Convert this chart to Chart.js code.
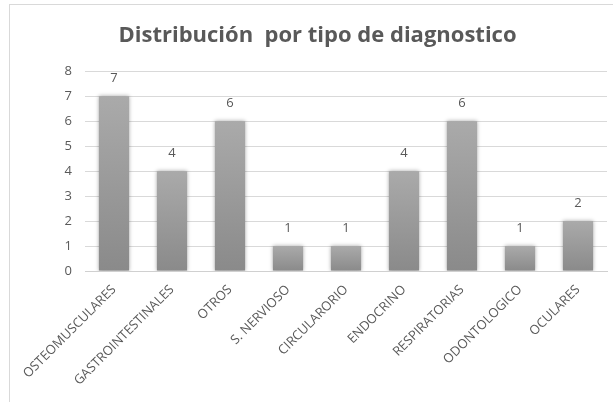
<!DOCTYPE html>
<html>
<head>
<meta charset="utf-8">
<script src="https://cdn.jsdelivr.net/npm/chart.js@4/dist/chart.umd.min.js"></script>
<style>
  html, body { margin: 0; padding: 0; background: #fff; overflow: hidden; }
  #frame { position: absolute; left: 9px; top: 4px; width: 620px; height: 420px; border: 1px solid #d9d9d9; }
  #wrap { position: absolute; left: 0; top: 0; width: 613px; height: 402px; }
</style>
</head>
<body>
<div id="frame"></div>
<div id="wrap"><canvas id="chart1"></canvas></div>
<script>
// chart data
const categories = ['OSTEOMUSCULARES', 'GASTROINTESTINALES', 'OTROS', 'S. NERVIOSO', 'CIRCULARORIO', 'ENDOCRINO', 'RESPIRATORIAS', 'ODONTOLOGICO', 'OCULARES'];
const counts = [7, 4, 6, 1, 1, 4, 6, 1, 2];
const yTicks = [0, 1, 2, 3, 4, 5, 6, 7, 8];

const textGray = '#595959';
const fontName = '"Open Sans", Lato, sans-serif';

// per-bar vertical gradient, lighter at the top
function barFill(context) {
  const chart = context.chart;
  const y = chart.scales && chart.scales.y;
  if (!y || !chart.chartArea) return '#999999';
  const v = context.raw || 0;
  const top = y.getPixelForValue(v);
  const bottom = y.getPixelForValue(0);
  const g = chart.ctx.createLinearGradient(0, top, 0, bottom);
  g.addColorStop(0, '#aaaaaa');
  g.addColorStop(1, '#8a8a8a');
  return g;
}

// soft shadow around the bars
const barShadow = {
  id: 'barShadow',
  beforeDatasetsDraw(chart) {
    const ctx = chart.ctx;
    ctx.save();
    ctx.shadowColor = 'rgba(0,0,0,0.35)';
    ctx.shadowBlur = 4;
  },
  afterDatasetsDraw(chart) {
    chart.ctx.restore();
  }
};

// value labels above each bar
const valueLabels = {
  id: 'valueLabels',
  afterDatasetsDraw(chart) {
    const ctx = chart.ctx;
    const meta = chart.getDatasetMeta(0);
    ctx.save();
    ctx.font = '13px ' + fontName;
    ctx.fillStyle = textGray;
    ctx.textAlign = 'center';
    ctx.textBaseline = 'middle';
    meta.data.forEach((bar, i) => {
      ctx.fillText(String(counts[i]), bar.x, bar.y - 18);
    });
    ctx.restore();
  }
};

const ctx1 = document.getElementById('chart1').getContext('2d');
window.myBarChart = new Chart(ctx1, {
  type: 'bar',
  data: {
    labels: categories,
    datasets: [
      {
        label: 'Distribución por tipo de diagnostico',
        data: counts,
        backgroundColor: barFill,
        borderWidth: 0,
        categoryPercentage: 1.0,
        barPercentage: 0.52,
      },
    ],
  },
  options: {
    responsive: true,
    maintainAspectRatio: false,
    animation: false,
    layout: { padding: { left: 28, right: 6, top: 0, bottom: 0 } },
    plugins: {
      legend: { display: false },
      tooltip: { enabled: false },
      title: {
        display: true,
        text: 'Distribución  por tipo de diagnostico',
        color: textGray,
        font: { family: fontName, size: 22, weight: 'bold' },
        padding: { top: 23, bottom: 22 },
      },
    },
    scales: {
      x: {
        grid: { display: false, drawTicks: false },
        border: { display: true, color: '#d0d0d0', width: 1 },
        ticks: {
          color: textGray,
          font: { family: fontName, size: 13 },
          minRotation: 45,
          maxRotation: 45,
          padding: 11,
          autoSkip: false,
        },
        afterFit(scale) { scale.height = 131; },
      },
      y: {
        min: 0,
        max: 8,
        afterBuildTicks(scale) { scale.ticks = yTicks.map(v => ({ value: v })); },
        grid: { color: '#d9d9d9', drawTicks: false },
        border: { display: false },
        ticks: {
          color: textGray,
          font: { family: fontName, size: 13 },
          padding: 13,
        },
        afterFit(scale) { scale.width = 57; },
      },
    },
  },
  plugins: [barShadow, valueLabels],
});
</script>
</body>
</html>
